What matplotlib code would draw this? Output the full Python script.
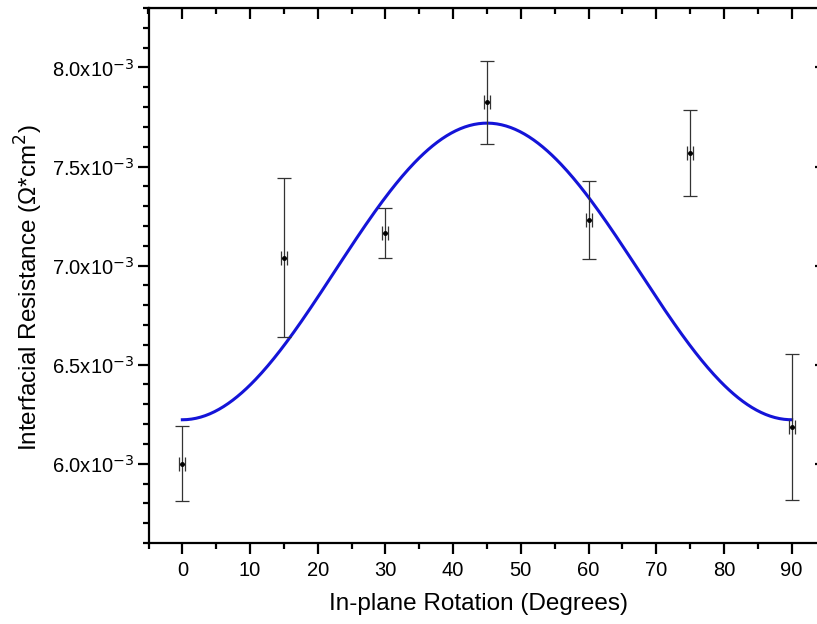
import numpy as np
import matplotlib.pyplot as plt
from matplotlib.ticker import MultipleLocator, FuncFormatter

plt.rcParams['font.family'] = ['Liberation Sans', 'DejaVu Sans']

# measured points (degrees, ohm*cm^2)
angle = [0, 15, 30, 45, 60, 75, 90]
resistance = [6.00e-3, 7.04e-3, 7.165e-3, 7.825e-3, 7.23e-3, 7.568e-3, 6.185e-3]
res_err = [0.19e-3, 0.40e-3, 0.125e-3, 0.21e-3, 0.195e-3, 0.215e-3, 0.37e-3]
angle_err = [0.45] * 7

# fit: R = r_min + r_amp * sin^2(2 theta)
r_min = 6.222e-3
r_amp = 1.497e-3

fig = plt.figure(figsize=(8.17, 6.24), dpi=100)
ax = fig.add_axes([148.5 / 817, 81 / 624, 677 / 817, 535 / 624])

theta = np.linspace(0, 90, 400)
fit = r_min + r_amp * np.sin(np.radians(2 * theta)) ** 2
ax.plot(theta, fit, color='#1414d8', lw=2.2, zorder=2)

ax.errorbar(angle, resistance, yerr=res_err, xerr=angle_err, fmt='o', ms=2.5,
            color='black', ecolor='#333333', elinewidth=0.9, capsize=5,
            capthick=0.9, zorder=3)

ax.set_xlim(-5, 95)
ax.set_ylim(5.6e-3, 8.3e-3)
ax.xaxis.set_major_locator(MultipleLocator(10))
ax.xaxis.set_minor_locator(MultipleLocator(5))
ax.yaxis.set_major_locator(MultipleLocator(0.5e-3))
ax.yaxis.set_minor_locator(MultipleLocator(0.1e-3))
ax.yaxis.set_major_formatter(FuncFormatter(lambda v, p: f'{v * 1e3:.1f}x10$^{{-3}}$'))

for s in ax.spines.values():
    s.set_linewidth(1.6)
ax.tick_params(which='both', direction='out', width=1.6, labelsize=14.5,
               top=False, right=False)
ax.tick_params(axis='y', pad=2)
ax.tick_params(axis='x', pad=5)
ax.tick_params(which='major', length=8)
ax.tick_params(which='minor', length=4.5)

# inward ticks on top and right
ax_top = ax.secondary_xaxis('top')
ax_top.xaxis.set_major_locator(MultipleLocator(10))
ax_top.xaxis.set_minor_locator(MultipleLocator(5))
ax_top.tick_params(which='both', direction='in', width=1.6, labeltop=False)
ax_top.tick_params(which='major', length=8)
ax_top.tick_params(which='minor', length=4.5)
ax_right = ax.secondary_yaxis('right')
ax_right.yaxis.set_major_locator(MultipleLocator(0.5e-3))
ax_right.yaxis.set_minor_locator(MultipleLocator(0.1e-3))
ax_right.tick_params(which='both', direction='in', width=1.6, labelright=False)
ax_right.tick_params(which='major', length=8)
ax_right.tick_params(which='minor', length=4.5)

ax.set_xlabel('In-plane Rotation (Degrees)', fontsize=17.5, labelpad=9)
ax.set_ylabel('Interfacial Resistance (\u03a9*cm$^2$)', fontsize=17.5, labelpad=5)
ax.xaxis.label.set_x(0.488)
ax.yaxis.label.set_y(0.478)

fig.savefig('out.png', dpi=100)
